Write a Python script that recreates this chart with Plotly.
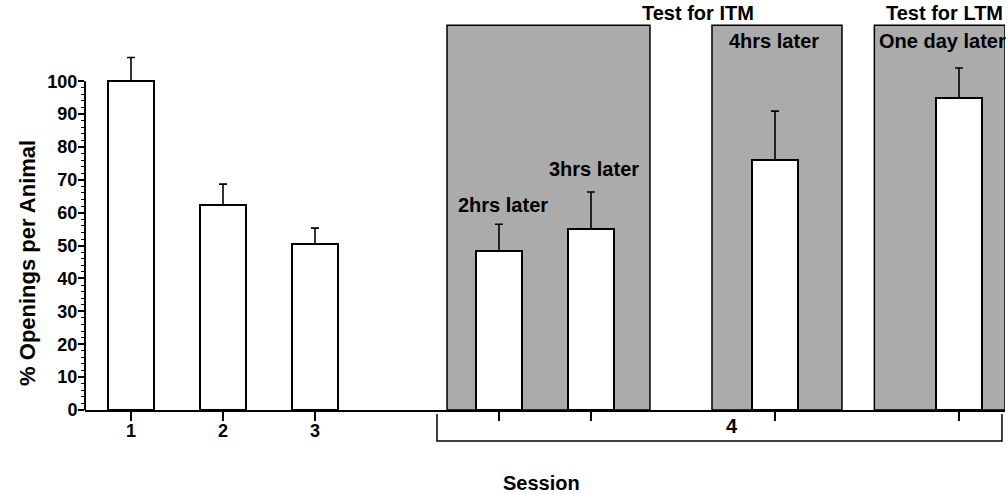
import plotly.graph_objects as go

# ---- data ----
slots = [1, 2, 3, 5, 6, 8, 10]
slot_labels = ["1", "2", "3", "", "", "", ""]
means = [100.0, 62.3, 50.4, 48.3, 55.0, 76.0, 94.9]
sem = [7.2, 6.4, 4.9, 8.2, 11.3, 14.9, 9.1]
y_ticks = [0, 10, 20, 30, 40, 50, 60, 70, 80, 90, 100]
y_minor = list(range(0, 101, 2))

FONT = "Liberation Sans, Arial, Helvetica, sans-serif"
GRAY = "#ababab"

fig = go.Figure()
fig.add_trace(go.Bar(
    x=slots, y=means, width=0.5,
    marker=dict(color="white", line=dict(color="black", width=2)),
    error_y=dict(type="data", symmetric=False, array=sem,
                 arrayminus=[0] * len(sem), color="black",
                 thickness=1.6, width=4),
    showlegend=False,
))

shapes = []
# grey test periods
for x0, x1 in [(4.435, 6.641), (7.315, 8.728), (9.08, 10.5)]:
    shapes.append(dict(type="rect", xref="x", yref="y", x0=x0, x1=x1,
                       y0=0, y1=117, fillcolor=GRAY,
                       line=dict(color="black", width=1.5), layer="below"))
# y axis line up to 100
shapes.append(dict(type="line", xref="paper", yref="y", x0=0, x1=0,
                   y0=0, y1=100, line=dict(color="black", width=2)))
# session 4 bracket
shapes.append(dict(type="path", xref="x", yref="paper",
                   path="M 4.326,-0.0103 L 4.326,-0.0799 L 10.467,-0.0799 L 10.467,-0.0103",
                   line=dict(color="black", width=1.5)))
fig.update_layout(shapes=shapes)

tf = dict(family=FONT, size=20, color="black", weight="bold")
ann = [
    dict(text="Test for ITM", x=7.163, y=1.023, xref="x", yref="paper"),
    dict(text="Test for LTM", x=9.837, y=1.023, xref="x", yref="paper"),
    dict(text="4hrs later", x=7.99, y=112.2, xref="x", yref="y"),
    dict(text="One day later", x=9.82, y=112.2, xref="x", yref="y"),
    dict(text="3hrs later", x=6.03, y=73.3, xref="x", yref="y"),
    dict(text="2hrs later", x=5.04, y=62.3, xref="x", yref="y"),
    dict(text="4", x=7.53, y=-0.041, xref="x", yref="paper"),
    dict(text="Session", x=0.4967, y=-0.188, xref="paper", yref="paper"),
]
for a in ann:
    a.update(showarrow=False, font=tf, xanchor="center", yanchor="middle")
ann.append(dict(text="% Openings per Animal", x=-0.062, y=0.379, xref="paper",
                yref="paper", textangle=-90, showarrow=False,
                font=dict(family=FONT, size=22, color="black", weight="bold"),
                xanchor="center", yanchor="middle"))
fig.update_layout(annotations=ann)

tick_font = dict(family=FONT, size=18, color="black", weight="bold")
fig.update_layout(
    width=1008, height=494,
    margin=dict(l=85, r=3, t=22, b=84, pad=0),
    paper_bgcolor="white", plot_bgcolor="white",
    bargap=0,
    xaxis=dict(range=[0.5, 10.5], tickvals=slots, ticktext=slot_labels,
               ticks="outside", ticklen=9, tickwidth=1.5, tickcolor="black",
               showline=True, linecolor="black", linewidth=2,
               showgrid=False, zeroline=False, ticklabelstandoff=-6,
               tickfont=tick_font),
    yaxis=dict(range=[0, 118], tickvals=y_ticks,
               ticks="outside", ticklen=6, tickwidth=1.5, tickcolor="black",
               showline=False, showgrid=False, zeroline=False,
               ticklabelstandoff=-3,
               minor=dict(tickmode="array", tickvals=y_minor, ticks="outside",
                          ticklen=3, tickwidth=1, tickcolor="black", showgrid=False),
               tickfont=tick_font),
)

fig.write_html("out.html")
